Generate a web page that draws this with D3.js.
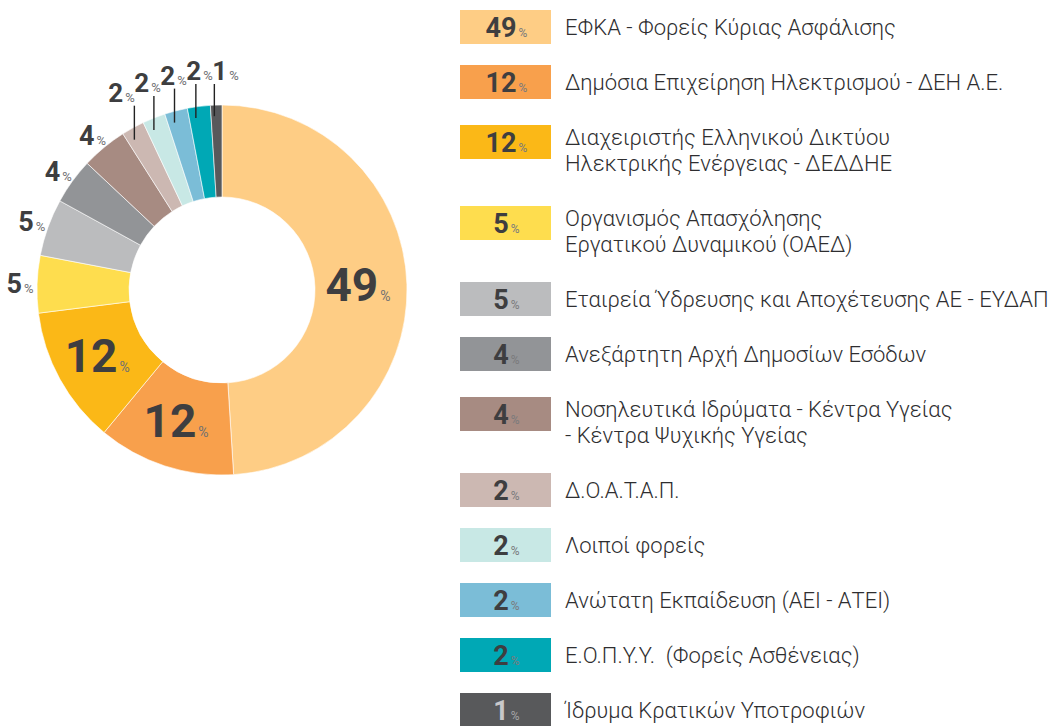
<!DOCTYPE html>
<html><head><meta charset="utf-8">
<script src="https://cdn.jsdelivr.net/npm/d3@7"></script>
<style>
html,body{margin:0;padding:0;background:#fff;}
svg{display:block;}
text{font-family:Roboto,"Noto Sans",sans-serif;}
</style></head>
<body>
<svg id="chart" width="1052" height="726"></svg>
<script>
const categories = [
  ["ΕΦΚΑ - Φορείς Κύριας Ασφάλισης"],
  ["Δημόσια Επιχείρηση Ηλεκτρισμού - ΔΕΗ Α.Ε."],
  ["Διαχειριστής Ελληνικού Δικτύου", "Ηλεκτρικής Ενέργειας - ΔΕΔΔΗΕ"],
  ["Οργανισμός Απασχόλησης", "Εργατικού Δυναμικού (ΟΑΕΔ)"],
  ["Εταιρεία Ύδρευσης και Αποχέτευσης ΑΕ - ΕΥΔΑΠ"],
  ["Ανεξάρτητη Αρχή Δημοσίων Εσόδων"],
  ["Νοσηλευτικά Ιδρύματα - Κέντρα Υγείας", "- Κέντρα Ψυχικής Υγείας"],
  ["Δ.Ο.Α.Τ.Α.Π."],
  ["Λοιποί φορείς"],
  ["Ανώτατη Εκπαίδευση (ΑΕΙ - ΑΤΕΙ)"],
  ["Ε.Ο.Π.Υ.Υ.  (Φορείς Ασθένειας)"],
  ["Ίδρυμα Κρατικών Υποτροφιών"]
];
const values = [49, 12, 12, 5, 5, 4, 4, 2, 2, 2, 2, 1];
const colors = ["#FECD85","#F8A04C","#FBB817","#FEDD4E","#BBBCBE","#929497",
                "#A78B82","#CCB8B2","#C8E8E5","#7BBDD7","#00A8B5","#58595B"];

const svg = d3.select("#chart");
const cx = 222, cy = 290, R = 185, r0 = 93;
const numColor = "#3e3e40", pctColor = "#707072";

const pie = d3.pie().sort(null).value(d => d.v)
  .startAngle(0).endAngle(2 * Math.PI);
const data = values.map((v, i) => ({v, i}));
const arcs = pie(data);
const arc = d3.arc().innerRadius(r0).outerRadius(R);

const g = svg.append("g").attr("transform", `translate(${cx},${cy})`);
g.selectAll("path.slice").data(arcs).join("path")
  .attr("class", "slice")
  .attr("d", arc)
  .attr("fill", d => colors[d.data.i])
  .attr("stroke", "#fff").attr("stroke-width", 0.6);

function label(sel, v, numSize, pctSize, nc, pc) {
  sel.append("tspan").attr("font-weight", 700).attr("font-size", numSize)
    .attr("fill", nc).text(v);
  sel.append("tspan").attr("font-size", pctSize).attr("fill", pc)
    .attr("dx", 2).text("%");
}

const pt = (a, rad) => [Math.sin(a) * rad, -Math.cos(a) * rad];

const leaders = [];
arcs.forEach(d => {
  const v = d.data.v;
  const mid = (d.startAngle + d.endAngle) / 2;
  if (v >= 10) {
    const [x, y] = arc.centroid(d);
    const t = g.append("text").attr("x", x - 3).attr("y", y + 15)
      .attr("text-anchor", "middle");
    label(t, v, 46, 14, numColor, pctColor);
  } else if (v >= 4) {
    const [x, y] = pt(mid, 200);
    const t = g.append("text").attr("x", x - 2).attr("y", y + 9)
      .attr("text-anchor", "middle");
    label(t, v, 27, 13, numColor, pctColor);
  } else {
    const a = d.startAngle + 0.3 * (d.endAngle - d.startAngle);
    const [x, y] = pt(a, 174);
    leaders.push({v, x, y, base: Math.max(y - 38, 80 - cy), left: x - 2});
  }
});
// spread leader labels so they don't collide (right to left)
for (let k = leaders.length - 2; k >= 0; k--) {
  leaders[k].left = Math.min(leaders[k].left, leaders[k + 1].left - 26);
}
leaders.forEach(L => {
  g.append("line").attr("x1", L.x).attr("x2", L.x)
    .attr("y1", L.base + 4).attr("y2", L.y)
    .attr("stroke", "#222").attr("stroke-width", 1.4);
  const t = g.append("text").attr("x", L.left).attr("y", L.base)
    .attr("text-anchor", "start");
  label(t, L.v, 26, 13, numColor, pctColor);
});

// Legend
const lx = 460, bw = 91, bh = 34, tx = 565, lineH = 26;
let center = 27;
const legend = svg.append("g");
categories.forEach((lines, i) => {
  if (i > 0) center += 55 + 13 * (categories[i - 1].length - 1) + 13 * (lines.length - 1);
  const n = lines.length;
  const boxC = n > 1 ? center - 8 : center;
  legend.append("rect").attr("x", lx).attr("y", boxC - bh / 2)
    .attr("width", bw).attr("height", bh).attr("fill", colors[i]);
  const last = i === categories.length - 1;
  const t = legend.append("text").attr("x", lx + bw / 2 + 1).attr("y", boxC + 10)
    .attr("text-anchor", "middle");
  label(t, values[i], 27, 12, last ? "#c8c8ca" : numColor, last ? "#a5a5a7" : "#7a7a7c");
  const tt = legend.append("text").attr("font-size", 22).attr("font-weight", 300)
    .attr("fill", "#2e2e30").attr("xml:space", "preserve").style("white-space", "pre");
  lines.forEach((ln, k) => {
    tt.append("tspan").attr("x", tx)
      .attr("y", center - (n - 1) * lineH / 2 + k * lineH + 8)
      .text(ln);
  });
});
</script>
</body></html>
